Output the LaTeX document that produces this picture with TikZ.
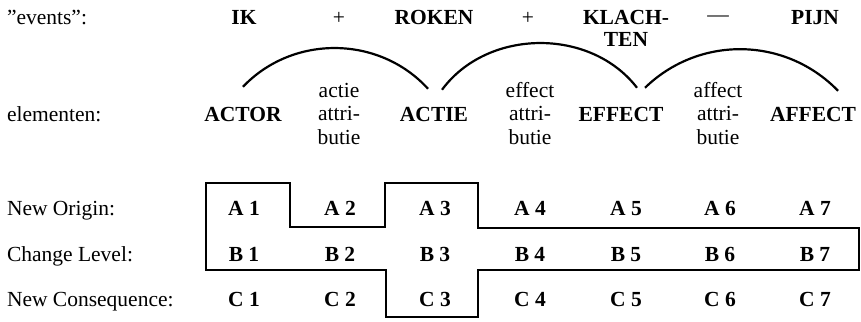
\documentclass[tikz,border=0pt]{standalone}
\usepackage{fontspec}
\setmainfont{Liberation Serif}
\begin{document}
\begin{tikzpicture}[x=1pt,y=-1pt,
  every node/.style={inner sep=0pt, outer sep=0pt, font=\fontsize{21.5}{23}\selectfont},
  lab/.style={anchor=base west},
  item/.style={anchor=base, font=\fontsize{21.5}{22}\selectfont\bfseries},
  sign/.style={anchor=base},
  attr/.style={anchor=base, align=center, font=\fontsize{21.5}{23.5}\selectfont},
  cell/.style={anchor=base, font=\fontsize{21.5}{23}\selectfont\bfseries},
  link/.style={line width=2.2pt},
  frame/.style={line width=2.1pt, line join=miter}
]
\path[use as bounding box] (0,0) rectangle (861,321);

% events row (multi-line nodes sit on the baseline of their last line)
\node[lab]  (ev)       at (7,25)   {”events”:};
\node[item] (ik)       at (244,25) {IK};
\node[sign] (plusA)    at (339,25) {+};
\node[item] (roken)    at (434,25) {ROKEN};
\node[sign] (plusB)    at (528,25) {+};
\node[item, align=center] (klachten) at (626,47) {KLACH-\\TEN};
\node[sign] (minus)    at (718,22) {—};
\node[item] (pijn)     at (815,25) {PIJN};

% element row
\node[lab]  (el)     at (7,121)   {elementen:};
\node[item] (actor)  at (243,121) {ACTOR};
\node[attr] (aattr)  at (339,144) {actie\\attri-\\butie};
\node[item] (actie)  at (434,121) {ACTIE};
\node[attr] (eattr)  at (530,144) {effect\\attri-\\butie};
\node[item] (effect) at (621,121) {EFFECT};
\node[attr] (fattr)  at (718,144) {affect\\attri-\\butie};
\node[item] (affect) at (813,121) {AFFECT};

% arc end points above the element names
\coordinate (a1s) at ([yshift=20pt]actor.north);
\coordinate (a1e) at ([xshift=-6pt,yshift=18pt]actie.north);
\coordinate (a2s) at ([xshift=8pt,yshift=17pt]actie.north);
\coordinate (a2e) at ([xshift=16pt,yshift=19pt]effect.north);
\coordinate (a3s) at ([xshift=24pt,yshift=19pt]effect.north);
\coordinate (a3e) at ([xshift=25pt,yshift=16pt]affect.north);

\draw[link] (a1s) to[bend left=47] (a1e);
\draw[link] (a2s) to[bend left=53] (a2e);
\draw[link] (a3s) to[bend left=45] (a3e);

% level rows
\node[lab] (lo) at (7,215) {New Origin:};
\node[lab] (lc) at (7,261) {Change Level:};
\node[lab] (ln) at (7,306) {New Consequence:};

\foreach \i/\x in {1/244,2/340,3/435,4/530,5/626,6/720,7/815}{
  \node[cell] (A\i) at (\x,215) {A \i};
  \node[cell] (B\i) at (\x,261) {B \i};
  \node[cell] (C\i) at (\x,306) {C \i};
}

% outline of the selected cells
\draw[frame] (206,183) -- (290,183) -- (290,227) -- (385,227) -- (385,183)
  -- (478,183) -- (478,228) -- (859,228) -- (859,270) -- (478,270)
  -- (478,317) -- (386,317) -- (386,270) -- (206,270) -- cycle;
\end{tikzpicture}
\end{document}
